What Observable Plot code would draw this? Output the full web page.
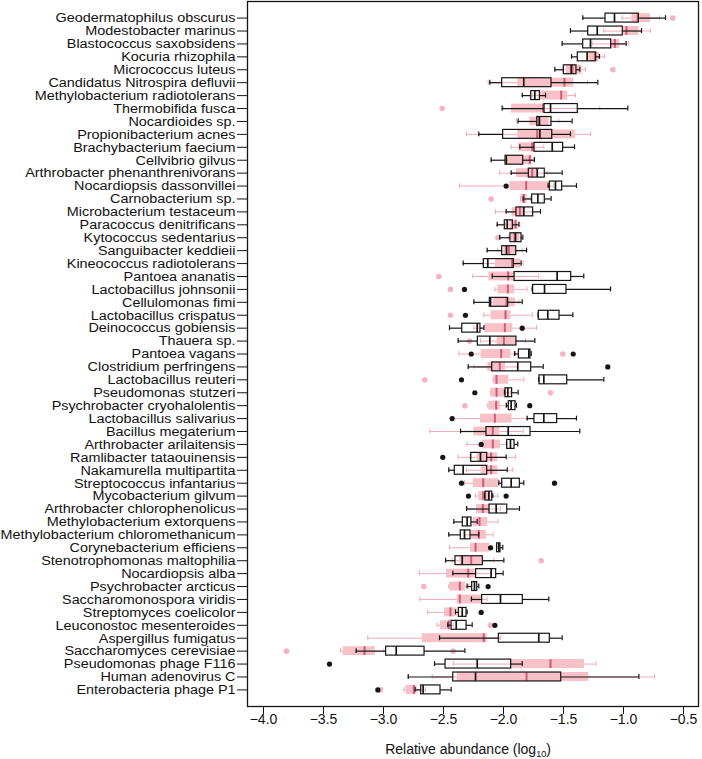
<!DOCTYPE html>
<html>
<head>
<meta charset="utf-8">
<script src="https://cdn.jsdelivr.net/npm/d3@7"></script>
<script src="https://cdn.jsdelivr.net/npm/@observablehq/plot@0.6"></script>
<style>
  html, body { margin: 0; padding: 0; background: #fff; }
  #chart { width: 702px; height: 759px; }
</style>
</head>
<body>
<div id="chart"></div>
<script>
const categories = [
  "Geodermatophilus obscurus","Modestobacter marinus","Blastococcus saxobsidens","Kocuria rhizophila",
  "Micrococcus luteus","Candidatus Nitrospira defluvii","Methylobacterium radiotolerans","Thermobifida fusca",
  "Nocardioides sp.","Propionibacterium acnes","Brachybacterium faecium","Cellvibrio gilvus",
  "Arthrobacter phenanthrenivorans","Nocardiopsis dassonvillei","Carnobacterium sp.","Microbacterium testaceum",
  "Paracoccus denitrificans","Kytococcus sedentarius","Sanguibacter keddieii","Kineococcus radiotolerans",
  "Pantoea ananatis","Lactobacillus johnsonii","Cellulomonas fimi","Lactobacillus crispatus",
  "Deinococcus gobiensis","Thauera sp.","Pantoea vagans","Clostridium perfringens",
  "Lactobacillus reuteri","Pseudomonas stutzeri","Psychrobacter cryohalolentis","Lactobacillus salivarius",
  "Bacillus megaterium","Arthrobacter arilaitensis","Ramlibacter tataouinensis","Nakamurella multipartita",
  "Streptococcus infantarius","Mycobacterium gilvum","Arthrobacter chlorophenolicus","Methylobacterium extorquens",
  "Methylobacterium chloromethanicum","Corynebacterium efficiens","Stenotrophomonas maltophilia","Nocardiopsis alba",
  "Psychrobacter arcticus","Saccharomonospora viridis","Streptomyces coelicolor","Leuconostoc mesenteroides",
  "Aspergillus fumigatus","Saccharomyces cerevisiae","Pseudomonas phage F116","Human adenovirus C",
  "Enterobacteria phage P1"
];

// black (outlined) boxes
const blackLo  = [-1.339,-1.442,-1.511,-1.433,-1.572,-2.114,-1.844,-2.011,-1.878,-2.206,-1.864,-2.103,-1.936,-1.628,-1.836,-1.978,-2.053,-2.031,-2.136,-2.336,-2.094,-1.761,-2.247,-1.711,-2.450,-2.378,-1.908,-2.294,-1.706,-1.992,-1.975,-1.803,-2.358,-1.975,-2.275,-2.456,-2.039,-2.158,-2.308,-2.414,-2.456,-2.058,-2.483,-2.422,-2.303,-2.267,-2.400,-2.464,-2.533,-3.228,-2.575,-2.794,-2.736];
const blackQ1  = [-1.150,-1.294,-1.336,-1.381,-1.497,-2.011,-1.769,-1.658,-1.719,-2.003,-1.742,-1.983,-1.789,-1.614,-1.761,-1.892,-1.989,-1.942,-2.011,-2.164,-1.908,-1.753,-2.114,-1.706,-2.344,-2.214,-1.872,-2.094,-1.700,-1.983,-1.956,-1.742,-2.142,-1.969,-2.269,-2.406,-2.011,-2.150,-2.117,-2.339,-2.356,-2.053,-2.400,-2.228,-2.261,-2.178,-2.372,-2.433,-2.039,-2.978,-2.483,-2.419,-2.686];
const blackMed = [-1.075,-1.219,-1.275,-1.303,-1.436,-1.831,-1.739,-1.608,-1.700,-1.697,-1.594,-1.975,-1.719,-1.567,-1.714,-1.831,-1.969,-1.900,-1.975,-2.131,-1.553,-1.658,-2.108,-1.631,-2.219,-2.114,-1.789,-1.881,-1.664,-1.964,-1.936,-1.664,-1.961,-1.942,-2.192,-2.336,-1.936,-2.122,-2.061,-2.303,-2.325,-2.039,-2.344,-2.103,-2.242,-2.025,-2.344,-2.394,-1.706,-2.894,-2.219,-2.233,-2.670];
const blackQ3  = [-0.872,-1.006,-1.103,-1.228,-1.392,-1.600,-1.697,-1.381,-1.600,-1.594,-1.503,-1.836,-1.656,-1.511,-1.656,-1.753,-1.922,-1.850,-1.894,-1.914,-1.436,-1.475,-1.961,-1.533,-2.192,-1.892,-1.775,-1.769,-1.469,-1.928,-1.900,-1.553,-1.775,-1.908,-2.136,-2.136,-1.864,-2.094,-1.969,-2.267,-2.275,-2.025,-2.172,-2.061,-2.219,-1.839,-2.308,-2.308,-1.614,-2.658,-1.936,-1.519,-2.525];
const blackHi  = [-0.650,-0.850,-0.978,-1.200,-1.364,-1.214,-1.650,-0.964,-1.428,-1.442,-1.408,-1.742,-1.511,-1.392,-1.603,-1.692,-1.872,-1.839,-1.808,-1.853,-1.331,-1.108,-1.844,-1.422,-2.164,-1.739,-1.769,-1.669,-1.164,-1.878,-1.892,-1.392,-1.364,-1.881,-1.978,-1.969,-1.831,-2.089,-1.867,-2.219,-2.206,-2.006,-1.997,-2.003,-2.206,-1.622,-2.303,-2.261,-1.511,-2.322,-1.844,-0.872,-2.436];

// pink (filled) boxes
const pinkLo  = [-1.011,-1.164,-1.261,-1.300,-1.511,-2.128,-1.760,-2.003,-1.892,-2.308,-1.936,-1.983,-2.031,-2.367,-1.858,-2.067,-1.983,-1.956,-2.047,-2.169,-2.256,-2.072,-2.108,-2.164,-2.247,-2.192,-2.372,-2.247,-2.086,-2.108,-2.131,-2.414,-2.614,-2.303,-2.378,-2.308,-2.325,-2.233,-2.303,-2.275,-2.325,-2.450,-2.428,-2.700,-2.456,-2.697,-2.631,-2.553,-3.131,-3.358,-2.419,-2.594,-2.830];
const pinkQ1  = [-0.930,-1.006,-1.103,-1.289,-1.475,-1.881,-1.697,-1.933,-1.781,-1.881,-1.872,-1.956,-1.892,-1.947,-1.853,-1.928,-1.947,-1.936,-1.997,-2.067,-2.122,-2.047,-2.086,-2.103,-2.158,-2.053,-2.186,-2.131,-2.081,-2.103,-2.122,-2.192,-2.247,-2.178,-2.219,-2.186,-2.253,-2.206,-2.225,-2.253,-2.269,-2.275,-2.364,-2.475,-2.447,-2.386,-2.492,-2.525,-2.678,-3.336,-1.936,-2.386,-2.811];
const pinkMed = [-0.881,-0.975,-1.072,-1.239,-1.425,-1.492,-1.519,-1.670,-1.706,-1.719,-1.761,-1.781,-1.761,-1.811,-1.831,-1.864,-1.900,-1.906,-1.956,-1.928,-1.961,-1.964,-1.975,-1.983,-1.989,-1.997,-2.019,-2.031,-2.058,-2.058,-2.061,-2.072,-2.089,-2.089,-2.103,-2.103,-2.169,-2.169,-2.172,-2.200,-2.206,-2.233,-2.269,-2.294,-2.364,-2.364,-2.442,-2.456,-2.164,-3.158,-1.608,-1.808,-2.747];
const pinkQ3  = [-0.775,-0.872,-1.031,-1.200,-1.345,-1.414,-1.464,-1.655,-1.620,-1.400,-1.733,-1.761,-1.714,-1.622,-1.803,-1.817,-1.881,-1.864,-1.900,-1.853,-1.900,-1.908,-1.900,-1.936,-1.922,-1.892,-1.936,-1.983,-1.956,-1.975,-2.025,-1.928,-2.031,-2.025,-2.047,-2.047,-2.039,-2.108,-2.108,-2.131,-2.142,-2.114,-2.169,-2.225,-2.317,-2.178,-2.386,-2.442,-2.136,-3.067,-1.325,-1.289,-2.719];
const pinkHi  = [-0.700,-0.775,-0.956,-1.158,-1.317,-1.300,-1.400,-1.197,-1.539,-1.275,-1.664,-1.747,-1.636,-1.580,-1.775,-1.761,-1.864,-1.850,-1.844,-1.836,-1.706,-1.803,-1.872,-1.761,-1.725,-1.817,-1.900,-1.886,-1.831,-1.942,-1.983,-1.803,-1.836,-1.975,-1.900,-1.922,-2.011,-2.047,-2.025,-2.047,-2.086,-2.094,-2.081,-2.108,-2.289,-2.136,-2.372,-2.419,-2.025,-2.997,-1.228,-0.742,-2.650];

// outliers
const blackOutlierCat = ["Nocardiopsis dassonvillei","Lactobacillus johnsonii","Lactobacillus crispatus","Deinococcus gobiensis","Pantoea vagans","Pantoea vagans","Clostridium perfringens","Lactobacillus reuteri","Pseudomonas stutzeri","Psychrobacter cryohalolentis","Lactobacillus salivarius","Arthrobacter arilaitensis","Ramlibacter tataouinensis","Streptococcus infantarius","Streptococcus infantarius","Mycobacterium gilvum","Mycobacterium gilvum","Corynebacterium efficiens","Psychrobacter arcticus","Streptomyces coelicolor","Leuconostoc mesenteroides","Pseudomonas phage F116","Enterobacteria phage P1"];
const blackOutlierVal = [-1.978,-2.325,-2.317,-1.844,-2.269,-1.419,-1.131,-2.350,-2.239,-1.781,-2.428,-2.186,-2.506,-2.350,-1.575,-2.292,-1.978,-2.108,-2.128,-2.186,-2.072,-3.450,-3.047];
const pinkOutlierCat = ["Geodermatophilus obscurus","Micrococcus luteus","Thermobifida fusca","Carnobacterium sp.","Kytococcus sedentarius","Pantoea ananatis","Lactobacillus johnsonii","Lactobacillus crispatus","Thauera sp.","Pantoea vagans","Lactobacillus reuteri","Pseudomonas stutzeri","Psychrobacter cryohalolentis","Stenotrophomonas maltophilia","Psychrobacter arcticus","Leuconostoc mesenteroides","Saccharomyces cerevisiae","Saccharomyces cerevisiae","Enterobacteria phage P1"];
const pinkOutlierVal = [-0.589,-1.089,-2.511,-2.103,-2.047,-2.539,-2.442,-2.442,-2.283,-1.506,-2.656,-1.608,-2.322,-1.686,-2.664,-2.108,-3.808,-2.419,-3.025];

const xTicks = [-4.0,-3.5,-3.0,-2.5,-2.0,-1.5,-1.0,-0.5];

const boxes = categories.map((c, i) => ({
  cat: c,
  bLo: blackLo[i], bQ1: blackQ1[i], bMed: blackMed[i], bQ3: blackQ3[i], bHi: blackHi[i],
  pLo: pinkLo[i], pQ1: pinkQ1[i], pMed: pinkMed[i], pQ3: pinkQ3[i], pHi: pinkHi[i]
}));
const bOut = blackOutlierCat.map((c, i) => ({cat: c, v: blackOutlierVal[i]}));
const pOut = pinkOutlierCat.map((c, i) => ({cat: c, v: pinkOutlierVal[i]}));

const PINK_FILL = "#f8c1c7";
const PINK_WH = "#f3abb6";
const PINK_MED = "#cf5a7a";
const PINK_DOT = "#f5b4c4";
const INK = "#151515";

const chart = Plot.plot({
  width: 702,
  height: 759,
  marginLeft: 247,
  marginRight: 4,
  marginTop: 1,
  marginBottom: 53,
  style: {fontFamily: "'Liberation Sans', Arial, sans-serif", fontSize: "14px", color: "#111", background: "#fff"},
  x: {domain: [-4.1333, -0.375], label: null},
  y: {type: "band", domain: categories, paddingInner: 0, paddingOuter: 0.785, label: null},
  marks: [
    // pink series
    Plot.barX(boxes, {x1: "pQ1", x2: "pQ3", y: "cat", fill: PINK_FILL, insetTop: 2, insetBottom: 2}),
    Plot.ruleY(boxes, {x1: "pLo", x2: "pQ1", y: "cat", stroke: PINK_WH, strokeWidth: 1}),
    Plot.ruleY(boxes, {x1: "pQ3", x2: "pHi", y: "cat", stroke: PINK_WH, strokeWidth: 1}),
    Plot.tickX(boxes, {x: "pLo", y: "cat", stroke: PINK_WH, strokeWidth: 1, insetTop: 4, insetBottom: 4}),
    Plot.tickX(boxes, {x: "pHi", y: "cat", stroke: PINK_WH, strokeWidth: 1, insetTop: 4, insetBottom: 4}),
    Plot.tickX(boxes, {x: "pMed", y: "cat", stroke: PINK_MED, strokeWidth: 2, insetTop: 2, insetBottom: 2}),
    Plot.dot(pOut, {x: "v", y: "cat", r: 2.8, fill: PINK_DOT, stroke: "none"}),
    // black series
    Plot.ruleY(boxes, {x1: "bLo", x2: "bQ1", y: "cat", stroke: INK, strokeWidth: 1.2}),
    Plot.ruleY(boxes, {x1: "bQ3", x2: "bHi", y: "cat", stroke: INK, strokeWidth: 1.2}),
    Plot.tickX(boxes, {x: "bLo", y: "cat", stroke: INK, strokeWidth: 1.2, insetTop: 4, insetBottom: 4}),
    Plot.tickX(boxes, {x: "bHi", y: "cat", stroke: INK, strokeWidth: 1.2, insetTop: 4, insetBottom: 4}),
    Plot.barX(boxes, {x1: "bQ1", x2: "bQ3", y: "cat", fill: "none", stroke: INK, strokeWidth: 1.2, insetTop: 2, insetBottom: 2}),
    Plot.tickX(boxes, {x: "bMed", y: "cat", stroke: INK, strokeWidth: 1.7, insetTop: 2, insetBottom: 2}),
    Plot.dot(bOut, {x: "v", y: "cat", r: 2.6, fill: INK, stroke: "none"}),
    // axes and frame
    Plot.axisY({tickSize: 10, tickPadding: 2, fontSize: 13.5, label: null, stroke: INK}),
    Plot.axisX({ticks: xTicks, tickFormat: d => d.toFixed(1).replace("-", "\u2212"), tickSize: 8, tickPadding: 0, fontSize: 14, label: null, stroke: INK}),
    Plot.frame({stroke: INK, strokeWidth: 1.3})
  ]
});

document.getElementById("chart").appendChild(chart);

// widen the y tick labels slightly (the reference face is a little wider than Arial)
d3.select(chart).selectAll('g[aria-label="y-axis tick label"] text').each(function() {
  const el = d3.select(this);
  const tr = el.attr("transform");
  if (tr) {
    el.attr("transform", tr + " scale(1.067,1)");
  } else {
    const x = +el.attr("x") || 0, y = +el.attr("y") || 0;
    el.attr("x", 0).attr("y", 0).attr("transform", `translate(${x},${y}) scale(1.067,1)`);
  }
});

// x-axis title with subscript
const svg = d3.select(chart);
const t = svg.append("text")
  .attr("x", 468)
  .attr("y", 754)
  .attr("text-anchor", "middle")
  .attr("font-family", "'Liberation Sans', Arial, sans-serif")
  .attr("font-size", 14)
  .attr("fill", "#111");
t.append("tspan").text("Relative abundance (log");
t.append("tspan").attr("font-size", 9).attr("dy", 3).text("10");
t.append("tspan").attr("dy", -3).text(")");
</script>
</body>
</html>
